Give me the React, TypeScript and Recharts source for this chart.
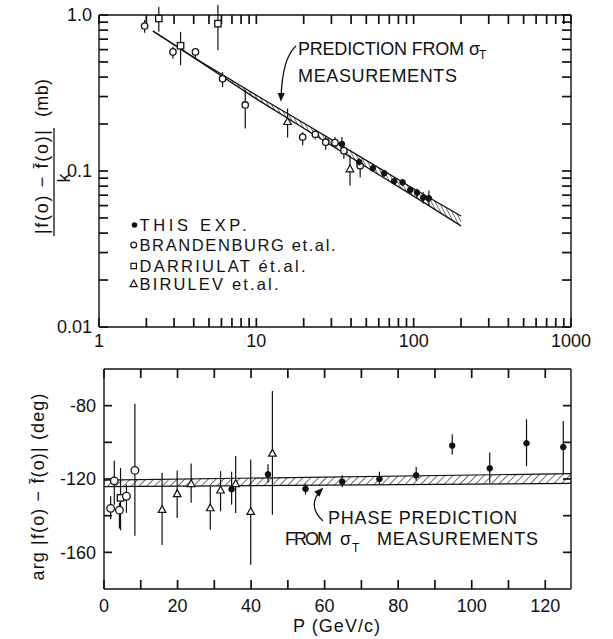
import React from 'react';
import { ComposedChart, Scatter, Area, XAxis, YAxis, ErrorBar } from 'recharts';

const FONT = '"Liberation Sans", Arial, Helvetica, sans-serif';
const INK = '#111';

// ---------------- top panel (log-log) ----------------
const thisExpTopP = [35, 45, 55, 65, 75, 85, 95, 105, 115, 125];
const thisExpTopV = [0.149, 0.114, 0.104, 0.0967, 0.086, 0.0846, 0.0755, 0.0727, 0.0676, 0.0668];
const thisExpTopLo = [0.136, 0.108, 0.099, 0.092, 0.082, 0.08, 0.072, 0.068, 0.062, 0.06];
const thisExpTopHi = [0.165, 0.121, 0.109, 0.101, 0.09, 0.089, 0.079, 0.077, 0.073, 0.075];

const brandTopP = [1.95, 2.95, 4.1, 6.1, 8.5, 19.7, 23.7, 27.6, 31.6, 36, 45.7];
const brandTopV = [0.85, 0.58, 0.58, 0.39, 0.265, 0.165, 0.172, 0.153, 0.152, 0.135, 0.108];
const brandTopLo = [0.77, 0.525, 0.53, 0.345, 0.187, 0.146, 0.159, 0.137, 0.14, 0.12, 0.091];
const brandTopHi = [0.93, 0.625, 0.61, 0.43, 0.33, 0.178, 0.184, 0.167, 0.165, 0.142, 0.117];

const darrTopP = [2.4, 3.3, 5.7];
const darrTopV = [0.95, 0.635, 0.88];
const darrTopLo = [0.78, 0.477, 0.595];
const darrTopHi = [1.13, 0.78, 1.16];

const birTopP = [15.8, 39.4];
const birTopV = [0.207, 0.103];
const birTopLo = [0.164, 0.0806];
const birTopHi = [0.252, 0.126];

const bandTopP = [2.2, 4.5, 10, 20, 50, 100, 200];
const bandTopLo = [0.79, 0.492, 0.29, 0.188, 0.106, 0.069, 0.0445];
const bandTopHi = [0.79, 0.498, 0.306, 0.203, 0.117, 0.077, 0.0515];

const topXTicks = [1, 2, 3, 4, 5, 6, 7, 8, 9, 10, 20, 30, 40, 50, 60, 70, 80, 90, 100, 200, 300, 400, 500, 600, 700, 800, 900, 1000];
const topXLabelVals = [1, 10, 100, 1000];
const topXLabelText = ['1', '10', '100', '1000'];
const topYTicks = [0.01, 0.02, 0.03, 0.04, 0.05, 0.06, 0.07, 0.08, 0.09, 0.1, 0.2, 0.3, 0.4, 0.5, 0.6, 0.7, 0.8, 0.9, 1];
const topYLabelVals = [0.01, 0.1, 1];
const topYLabelText = ['0.01', '0.1', '1.0'];

// ---------------- bottom panel (phase) ----------------
const thisExpBotP = [34.7, 44.6, 54.8, 64.8, 74.9, 84.9, 94.7, 104.9, 114.9, 124.9];
const thisExpBotV = [-125.6, -117.5, -125.4, -121.5, -120, -118, -101.8, -114.2, -100.5, -102.6];
const thisExpBotLo = [-134, -122, -128.5, -124.5, -123, -121, -106.6, -122, -113, -117.5];
const thisExpBotHi = [-116, -112, -122.5, -118, -116, -113.5, -95.6, -105.6, -87.4, -88.3];

const brandBotP = [1.8, 2.8, 4.2, 6.1, 8.4];
const brandBotV = [-136, -121, -137, -129.4, -115.3];
const brandBotLo = [-142, -134, -147, -138.4, -151];
const brandBotHi = [-129.4, -110, -133, -123, -79];

const darrBotP = [4.5];
const darrBotV = [-130.3];
const darrBotLo = [-148];
const darrBotHi = [-114];

const birBotP = [15.8, 19.9, 23.7, 28.9, 31.7, 35.8, 39.9, 45.8];
const birBotV = [-136.7, -128.1, -122.6, -135.8, -126.1, -122.6, -137.8, -106];
const birBotLo = [-156, -141.3, -133, -147.7, -137.6, -138.5, -166.8, -139.5];
const birBotHi = [-116.6, -115.3, -111.5, -124, -115.7, -107.5, -109.3, -72];

const bandBotP = [0, 127];
const bandBotLo = [-124.2, -122.4];
const bandBotHi = [-120.6, -117.1];

const botXTicks = [0, 10, 20, 30, 40, 50, 60, 70, 80, 90, 100, 110, 120];
const botXLabelVals = [0, 20, 40, 60, 80, 100, 120];
const botXLabelText = ['0', '20', '40', '60', '80', '100', '120'];
const botYTicks = [-160, -140, -120, -100, -80];
const botYLabelVals = [-160, -120, -80];
const botYLabelText = ['-160', '-120', '-80'];

const legendNames = ['THIS EXP.', 'BRANDENBURG et.al.', 'DARRIULAT ét.al.', 'BIRULEV et.al.'];

// ---------------- helpers ----------------
const pts = (xs: number[], ys: number[], lo: number[], hi: number[]) =>
  xs.map((x, i) => ({ x, y: ys[i], err: [ys[i] - lo[i], hi[i] - ys[i]] }));
const band = (xs: number[], lo: number[], hi: number[]) => xs.map((x, i) => ({ x, band: [lo[i], hi[i]] }));

const near = (a: number, b: number) => Math.abs(a - b) <= Math.abs(b) * 1e-6 + 1e-9;
const fmt = (vals: number[], texts: string[]) => (v: any) => {
  const i = vals.findIndex((lv) => near(lv, Number(v)));
  return i >= 0 ? texts[i] : '';
};
const noLabel = () => '';

const AL = { stroke: INK, strokeWidth: 1.4 };
const TL = { stroke: INK, strokeWidth: 1.7 };
const TK = { fill: INK, fontSize: 18, fontFamily: FONT };

const FilledDot = (p: any) => <circle cx={p.cx} cy={p.cy} r={2.8} fill={INK} stroke={INK} strokeWidth={1} />;
const OpenCircle = (p: any) => <circle cx={p.cx} cy={p.cy} r={3.2} fill="#fff" stroke={INK} strokeWidth={1.3} />;
const OpenCircleBig = (p: any) => <circle cx={p.cx} cy={p.cy} r={3.8} fill="#fff" stroke={INK} strokeWidth={1.3} />;
const OpenSquare = (p: any) => (
  <rect x={p.cx - 3.2} y={p.cy - 3.2} width={6.4} height={6.4} fill="#fff" stroke={INK} strokeWidth={1.3} />
);
const OpenTriangle = (p: any) => (
  <path
    d={`M${p.cx},${p.cy - 4} L${p.cx + 3.8},${p.cy + 2.8} L${p.cx - 3.8},${p.cy + 2.8} Z`}
    fill="#fff"
    stroke={INK}
    strokeWidth={1.2}
  />
);

const EB = () => <ErrorBar dataKey="err" direction="y" width={0} stroke={INK} strokeWidth={1.2} />;

// frame axes with inward tick marks (negative tickSize)
const frameX = (id: string, orient: 'top' | 'bottom', h: number, ticks: number[], len: number, margin: number, f: any, log: boolean, domain: number[]) => (
  <XAxis
    xAxisId={id}
    orientation={orient}
    dataKey="x"
    type="number"
    scale={log ? 'log' : 'linear'}
    domain={domain}
    allowDataOverflow
    ticks={ticks}
    interval={0}
    tickSize={-len}
    tickMargin={margin}
    height={h}
    axisLine={AL}
    tickLine={TL}
    tick={TK}
    tickFormatter={f}
  />
);
const frameY = (id: string, orient: 'left' | 'right', w: number, ticks: number[], len: number, margin: number, f: any, log: boolean, domain: number[]) => (
  <YAxis
    yAxisId={id}
    orientation={orient}
    dataKey="y"
    type="number"
    scale={log ? 'log' : 'linear'}
    domain={domain}
    allowDataOverflow
    ticks={ticks}
    interval={0}
    tickSize={-len}
    tickMargin={margin}
    width={w}
    axisLine={AL}
    tickLine={TL}
    tick={TK}
    tickFormatter={f}
  />
);

function TopPanel() {
  const data = band(bandTopP, bandTopLo, bandTopHi);
  const L = 9;
  return (
    <ComposedChart width={613} height={360} data={data} margin={{ top: 0, right: 0, bottom: 0, left: 0 }}>
      <defs>
        <pattern id="hatchTop" patternUnits="userSpaceOnUse" width="3.4" height="8" patternTransform="rotate(-28)">
          <line x1="0" y1="0" x2="0" y2="8" stroke={INK} strokeWidth="1.1" />
        </pattern>
      </defs>
      {frameX('b', 'bottom', 33, topXTicks, L, L + 7, fmt(topXLabelVals, topXLabelText), true, [1, 1000])}
      {frameX('t', 'top', 15, topXTicks, L, 0, noLabel, true, [1, 1000])}
      {frameY('l', 'left', 99, topYTicks, L, L + 7, fmt(topYLabelVals, topYLabelText), true, [0.01, 1])}
      {frameY('r', 'right', 42, topYTicks, L, 0, noLabel, true, [0.01, 1])}
      <Area
        xAxisId="b"
        yAxisId="l"
        type="linear"
        dataKey="band"
        stroke={INK}
        strokeWidth={1.3}
        fill="url(#hatchTop)"
        fillOpacity={1}
        dot={false}
        activeDot={false}
        legendType="none"
        isAnimationActive={false}
      />
      <Scatter xAxisId="b" yAxisId="l" name={legendNames[3]} data={pts(birTopP, birTopV, birTopLo, birTopHi)} shape={OpenTriangle} isAnimationActive={false}>
        {EB()}
      </Scatter>
      <Scatter xAxisId="b" yAxisId="l" name={legendNames[2]} data={pts(darrTopP, darrTopV, darrTopLo, darrTopHi)} shape={OpenSquare} isAnimationActive={false}>
        {EB()}
      </Scatter>
      <Scatter xAxisId="b" yAxisId="l" name={legendNames[1]} data={pts(brandTopP, brandTopV, brandTopLo, brandTopHi)} shape={OpenCircle} isAnimationActive={false}>
        {EB()}
      </Scatter>
      <Scatter xAxisId="b" yAxisId="l" name={legendNames[0]} data={pts(thisExpTopP, thisExpTopV, thisExpTopLo, thisExpTopHi)} shape={FilledDot} isAnimationActive={false}>
        {EB()}
      </Scatter>
    </ComposedChart>
  );
}

function BottomPanel() {
  const data = band(bandBotP, bandBotLo, bandBotHi);
  const L = 9;
  return (
    <ComposedChart width={613} height={279} data={data} margin={{ top: 0, right: 0, bottom: 0, left: 0 }}>
      <defs>
        <pattern id="hatchBot" patternUnits="userSpaceOnUse" width="5.5" height="10" patternTransform="rotate(45)">
          <line x1="0" y1="0" x2="0" y2="10" stroke={INK} strokeWidth="1.2" />
        </pattern>
      </defs>
      {frameX('b', 'bottom', 50, botXTicks, L, L + 10, fmt(botXLabelVals, botXLabelText), false, [0, 127])}
      {frameX('t', 'top', 9, botXTicks, L, 0, noLabel, false, [0, 127])}
      {frameY('l', 'left', 104, botYTicks, 8, 8 + 8, fmt(botYLabelVals, botYLabelText), false, [-180, -60])}
      {frameY('r', 'right', 42, botYTicks, 8, 0, noLabel, false, [-180, -60])}
      <Area
        xAxisId="b"
        yAxisId="l"
        type="linear"
        dataKey="band"
        stroke={INK}
        strokeWidth={1.2}
        fill="url(#hatchBot)"
        fillOpacity={1}
        dot={false}
        activeDot={false}
        legendType="none"
        isAnimationActive={false}
      />
      <Scatter xAxisId="b" yAxisId="l" name={legendNames[3]} data={pts(birBotP, birBotV, birBotLo, birBotHi)} shape={OpenTriangle} isAnimationActive={false}>
        {EB()}
      </Scatter>
      <Scatter xAxisId="b" yAxisId="l" name={legendNames[2]} data={pts(darrBotP, darrBotV, darrBotLo, darrBotHi)} shape={OpenSquare} isAnimationActive={false}>
        {EB()}
      </Scatter>
      <Scatter xAxisId="b" yAxisId="l" name={legendNames[1]} data={pts(brandBotP, brandBotV, brandBotLo, brandBotHi)} shape={OpenCircleBig} isAnimationActive={false}>
        {EB()}
      </Scatter>
      <Scatter xAxisId="b" yAxisId="l" name={legendNames[0]} data={pts(thisExpBotP, thisExpBotV, thisExpBotLo, thisExpBotHi)} shape={FilledDot} isAnimationActive={false}>
        {EB()}
      </Scatter>
    </ComposedChart>
  );
}

function Overlay() {
  const t = { fontFamily: FONT, fill: INK } as any;
  const legendBase = [231, 251, 272, 290];
  const legendLen = [107, 196, 166, 139];
  const legendMarkers = [
    <circle key="a" cx={134.5} cy={legendBase[0] - 6} r={2.8} fill={INK} />,
    <circle key="b" cx={133.7} cy={legendBase[1] - 6} r={2.9} fill="#fff" stroke={INK} strokeWidth={1.2} />,
    <rect key="c" x={131} y={legendBase[2] - 8.7} width={5.4} height={5.4} fill="#fff" stroke={INK} strokeWidth={1.2} />,
    <path
      key="d"
      d={`M133.7,${legendBase[3] - 10} L137.3,${legendBase[3] - 3.4} L130.1,${legendBase[3] - 3.4} Z`}
      fill="#fff"
      stroke={INK}
      strokeWidth={1.2}
    />,
  ];
  return (
    <svg width={613} height={639} style={{ position: 'absolute', left: 0, top: 0, pointerEvents: 'none' }}>
      <defs>
        <marker id="ah" viewBox="0 0 10 10" refX="8" refY="5" markerWidth="7" markerHeight="7" orient="auto">
          <path d="M0,1 L10,5 L0,9 Z" fill={INK} />
        </marker>
      </defs>
      {/* top y label */}
      <g transform="translate(42,182) rotate(-90)">
        <text x={0} y={6} textAnchor="middle" fontSize={18} textLength={104} lengthAdjust="spacing" {...t}>
          {'|f(o) \u2212 f\u0304(o)|'}
        </text>
      </g>
      <line x1={54} y1={128} x2={54} y2={236} stroke={INK} strokeWidth={1.3} />
      <g transform="translate(64,178) rotate(-90)">
        <text x={0} y={6} textAnchor="middle" fontSize={18} {...t}>k</text>
      </g>
      <g transform="translate(42,98) rotate(-90)">
        <text x={0} y={6} textAnchor="middle" fontSize={18} textLength={38} lengthAdjust="spacing" {...t}>(mb)</text>
      </g>
      {/* bottom y label */}
      <g transform="translate(38,487) rotate(-90)">
        <text x={0} y={6} textAnchor="middle" fontSize={18} textLength={187} lengthAdjust="spacing" {...t}>
          {'arg |f(o) \u2212 f\u0304(o)| (deg)'}
        </text>
      </g>
      {/* x label */}
      <text x={293} y={632} fontSize={18} textLength={87} lengthAdjust="spacing" {...t}>P (GeV/c)</text>

      {/* top annotation */}
      <text x={298} y={55} fontSize={18} textLength={166} lengthAdjust="spacing" {...t}>PREDICTION FROM</text>
      <text x={469} y={55} fontSize={18} {...t}>σ</text>
      <text x={479} y={59} fontSize={12} {...t}>T</text>
      <text x={298} y={82} fontSize={18} textLength={159} lengthAdjust="spacing" {...t}>MEASUREMENTS</text>
      <path d="M296,46 Q282,58 281,100" fill="none" stroke={INK} strokeWidth={1.3} markerEnd="url(#ah)" />

      {/* bottom annotation */}
      <text x={328} y={524} fontSize={18} textLength={189} lengthAdjust="spacing" {...t}>PHASE PREDICTION</text>
      <text x={285} y={545} fontSize={18} textLength={47} lengthAdjust="spacing" {...t}>FROM</text>
      <text x={340} y={545} fontSize={18} {...t}>σ</text>
      <text x={352} y={552} fontSize={12} {...t}>T</text>
      <text x={377} y={545} fontSize={18} textLength={161} lengthAdjust="spacing" {...t}>MEASUREMENTS</text>
      <path d="M323,521 Q306,505 322,489" fill="none" stroke={INK} strokeWidth={1.3} markerEnd="url(#ah)" />

      {/* legend */}
      {legendMarkers}
      {legendNames.map((n, i) => (
        <text key={n} x={139.5} y={legendBase[i]} fontSize={16.5} textLength={legendLen[i]} lengthAdjust="spacing" {...t}>
          {n}
        </text>
      ))}
    </svg>
  );
}

export default function App() {
  return (
    <div style={{ position: 'absolute', left: 0, top: 0, width: 613, height: 639, background: '#fff' }}>
      <div style={{ position: 'absolute', left: 0, top: 0 }}>
        <TopPanel />
      </div>
      <div style={{ position: 'absolute', left: 0, top: 360 }}>
        <BottomPanel />
      </div>
      <Overlay />
    </div>
  );
}
